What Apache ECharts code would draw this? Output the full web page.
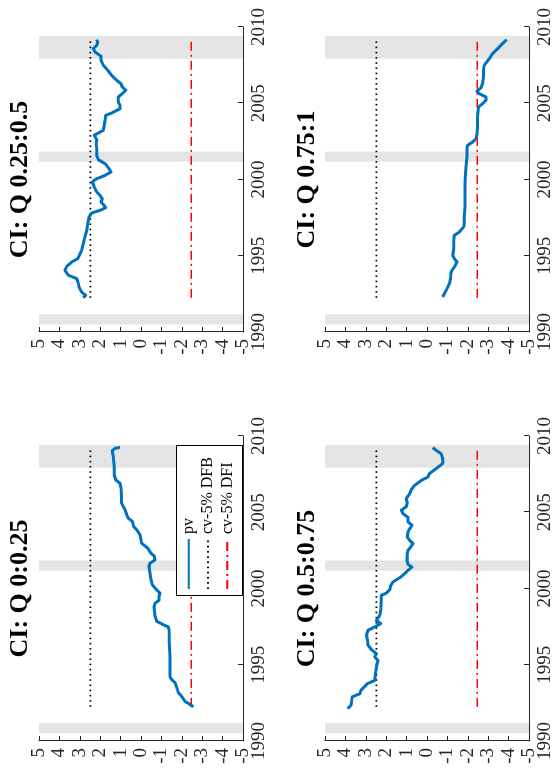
<!DOCTYPE html>
<html><head><meta charset="utf-8">
<script src="https://cdn.jsdelivr.net/npm/echarts@6/dist/echarts.min.js"></script>
<style>
html,body{margin:0;padding:0;width:555px;height:776px;overflow:hidden;background:#fff;}
#chart{position:absolute;left:0;top:0;width:776px;height:555px;transform-origin:0 0;transform:translate(0,776px) rotate(-90deg);}
</style></head><body><div id="chart"></div>
<script>
// ---- data ----
const panelTitles = ['CI: Q 0:0.25', 'CI: Q 0.25:0.5', 'CI: Q 0.5:0.75', 'CI: Q 0.75:1'];
const seriesNames = ['pv', 'cv-5% DFB', 'cv-5% DFI'];
const yearMin = 1990, yearMax = 2010, yearStep = 5;
const valMin = -5, valMax = 5, valStep = 1;
const recessions = [[1990.5, 1991.17], [2001.17, 2001.83], [2007.92, 2009.42]];
const cvDFB = 2.48;
const cvDFI = -2.46;
const cvStart = 1992.24, cvEnd = 2009.2;

const yrsA = [1992.24,1992.4,1992.6,1992.94,1993.16,1993.38,1993.82,1994.08,1994.25,1994.69,1995.56,1996.43,1997.3,1997.48,1997.63,1997.85,1998.18,1998.83,1999.04,1999.22,1999.48,1999.7,1999.91,2000.24,2000.57,2001.0,2001.44,2001.66,2001.87,2002.13,2002.31,2002.64,2002.97,2003.19,2003.52,2003.85,2004.07,2004.4,2004.6,2004.83,2005.16,2005.38,2005.6,2006.03,2006.58,2006.9,2007.12,2007.45,2008.0,2008.65,2009.04,2009.19,2009.26];
const pvA = [-2.57,-2.4,-2.16,-1.99,-1.83,-1.78,-1.67,-1.47,-1.42,-1.42,-1.42,-1.39,-1.37,-1.34,-1.09,-0.77,-0.69,-0.64,-0.69,-0.88,-0.88,-0.93,-0.77,-0.56,-0.49,-0.44,-0.39,-0.44,-0.69,-0.65,-0.49,-0.33,-0.03,0.0,0.05,0.21,0.36,0.42,0.62,0.70,0.78,0.87,0.95,0.95,0.98,1.03,1.24,1.31,1.31,1.36,1.41,1.27,1.03];

const yrsB = [1992.25,1992.4,1992.62,1992.95,1993.17,1993.5,1993.72,1994.04,1994.3,1994.59,1994.81,1995.03,1995.36,1995.79,1996.23,1996.67,1997.1,1997.54,1997.8,1997.98,1998.15,1998.37,1998.52,1998.74,1998.96,1999.18,1999.5,1999.84,2000.05,2000.27,2000.49,2000.71,2001.04,2001.3,2001.58,2002.02,2002.35,2002.61,2002.9,2003.05,2003.22,2003.55,2003.88,2004.21,2004.36,2004.64,2004.86,2005.08,2005.41,2005.63,2005.85,2006.07,2006.28,2006.5,2006.83,2007.16,2007.49,2007.81,2008.08,2008.36,2008.58,2008.8,2009.02,2009.17];
const pvB = [2.83,2.71,2.91,3.04,3.07,3.15,3.56,3.73,3.64,3.4,3.1,3.02,2.91,2.83,2.75,2.66,2.61,2.55,2.42,2.01,1.73,1.85,1.96,1.9,2.01,2.17,2.29,2.39,2.17,1.76,1.47,1.57,1.76,2.09,2.17,2.17,2.2,2.17,2.29,2.09,1.85,1.8,1.76,1.73,1.44,1.03,1.03,1.11,1.11,0.92,0.75,0.92,0.98,1.19,1.44,1.63,1.85,1.96,1.96,2.25,2.34,2.17,2.12,2.17];

const yrsC = [1992.12,1992.34,1992.56,1992.89,1993.1,1993.32,1993.76,1993.98,1994.42,1994.85,1995.29,1995.51,1995.73,1995.99,1996.27,1996.6,1996.93,1997.26,1997.48,1997.7,1997.9,1998.24,1998.57,1999.22,1999.55,1999.7,1999.92,2000.2,2000.43,2000.75,2000.97,2001.19,2001.41,2001.58,2001.84,2002.28,2002.5,2002.73,2002.95,2003.16,2003.38,2003.72,2004.15,2004.37,2004.66,2004.92,2005.14,2005.36,2005.63,2005.9,2006.22,2006.48,2006.76,2007.09,2007.31,2007.53,2007.86,2008.19,2008.52,2008.84,2009.06,2009.24];
const pvC = [3.89,3.73,3.7,3.67,3.29,3.24,2.92,2.56,2.53,2.48,2.4,2.56,2.48,2.72,2.89,2.92,2.97,2.89,2.56,2.27,2.48,2.32,2.27,2.24,2.24,1.99,1.83,1.78,1.67,1.29,1.1,0.93,0.74,0.93,0.98,0.97,0.93,0.8,0.69,0.85,0.97,0.93,0.74,0.93,0.93,1.18,1.26,1.02,0.97,1.02,0.85,0.77,0.61,0.28,-0.04,-0.12,-0.45,-0.77,-0.77,-0.69,-0.45,-0.28];

const yrsD = [1992.3,1992.51,1992.84,1993.17,1993.5,1993.93,1994.26,1994.59,1994.81,1995.03,1995.46,1996.01,1996.34,1996.56,1996.89,1997.15,1997.54,1998.2,1998.85,1999.51,2000.16,2000.82,2001.48,2002.02,2002.24,2002.46,2002.68,2003.0,2003.44,2004.1,2004.75,2004.97,2005.19,2005.41,2005.63,2005.8,2006.01,2006.28,2006.72,2007.16,2007.48,2007.92,2008.25,2008.58,2008.8,2009.02,2009.17];
const pvD = [-0.77,-0.85,-0.98,-1.1,-1.15,-1.18,-1.34,-1.47,-1.34,-1.26,-1.31,-1.31,-1.34,-1.59,-1.8,-1.83,-1.83,-1.86,-1.86,-1.86,-1.88,-1.91,-1.96,-1.96,-1.99,-2.24,-2.4,-2.45,-2.48,-2.48,-2.52,-2.72,-2.89,-2.89,-2.56,-2.45,-2.64,-2.72,-2.77,-2.77,-2.8,-3.05,-3.21,-3.46,-3.62,-3.78,-3.91];

const panelYears = [yrsA, yrsB, yrsC, yrsD];
const panelValues = [pvA, pvB, pvC, pvD];

// ---- layout (in unrotated chart coordinates) ----
const grids = [
  {left: 35, top: 39, width: 305, height: 204},
  {left: 444, top: 39, width: 305, height: 204},
  {left: 35, top: 325, width: 305, height: 205},
  {left: 444, top: 325, width: 305, height: 205}
];
const titleTops = [7, 7, 294, 294];
const legendBox = {x: 180, y: 176, width: 150, height: 66};
const FONT = "'Liberation Serif', 'Times New Roman', serif";
const AX = '#262626';
const NOSYM = {color: 'rgba(0,0,0,0)', borderColor: 'rgba(0,0,0,0)', borderWidth: 0, opacity: 0};

const chart = echarts.init(document.getElementById('chart'), null, {renderer: 'canvas'});
const option = {
  animation: false,
  backgroundColor: '#fff',
  title: panelTitles.map((t, i) => ({
    text: t, left: grids[i].left + grids[i].width / 2, top: titleTops[i], textAlign: 'center', padding: 0,
    textStyle: {fontFamily: FONT, fontWeight: 'bold', fontSize: 26, color: '#000'}
  })),
  graphic: [{
    type: 'rect', z: 20, silent: true,
    shape: {x: legendBox.x + 0.5, y: legendBox.y + 0.5, width: legendBox.width, height: legendBox.height},
    style: {fill: '#fff', stroke: '#000', lineWidth: 1}
  }],
  legend: {
    data: seriesNames.map(n => ({name: n, itemStyle: NOSYM})),
    orient: 'vertical', left: legendBox.x, top: legendBox.y, padding: [4.7, 10, 12, 6], z: 30,
    itemWidth: 50, itemHeight: 14, itemGap: 3.3,
    itemStyle: NOSYM, backgroundColor: 'transparent', borderWidth: 0,
    textStyle: {fontFamily: FONT, fontSize: 16, lineHeight: 14, color: '#000'}
  },
  grid: grids.map(g => Object.assign({containLabel: false}, g)),
  xAxis: grids.map((g, i) => ({
    gridIndex: i, type: 'value', min: yearMin, max: yearMax, interval: yearStep, position: 'bottom',
    axisLine: {show: true, onZero: false, lineStyle: {color: AX, width: 1}},
    axisTick: {show: true, inside: true, length: 5, lineStyle: {color: AX, width: 1}},
    axisLabel: {show: true, fontFamily: FONT, fontSize: 19, color: AX, margin: 7, formatter: v => String(v)},
    splitLine: {show: false}
  })),
  yAxis: grids.map((g, i) => ({
    gridIndex: i, type: 'value', min: valMin, max: valMax, interval: valStep, position: 'left',
    axisLine: {show: true, onZero: false, lineStyle: {color: AX, width: 1}},
    axisTick: {show: true, inside: true, length: 5, lineStyle: {color: AX, width: 1}},
    axisLabel: {show: true, fontFamily: FONT, fontSize: 19, color: AX, margin: 7, formatter: v => String(v)},
    splitLine: {show: false}
  })),
  series: []
};

for (let i = 0; i < 4; i++) {
  option.series.push({
    name: 'recession', type: 'line', xAxisIndex: i, yAxisIndex: i, data: [], z: 1, silent: true,
    markArea: {silent: true, itemStyle: {color: '#e5e5e5', borderWidth: 0},
      data: recessions.map(r => [{xAxis: r[0]}, {xAxis: r[1]}])}
  });
  option.series.push({
    name: seriesNames[1], type: 'line', xAxisIndex: i, yAxisIndex: i, symbol: 'none', z: 2, silent: true,
    data: [[cvStart, cvDFB], [cvEnd, cvDFB]],
    itemStyle: {color: '#000'}, lineStyle: {color: '#000', width: 1.6, type: [1.6, 3.6]}
  });
  option.series.push({
    name: seriesNames[2], type: 'line', xAxisIndex: i, yAxisIndex: i, symbol: 'none', z: 2, silent: true,
    data: [[cvStart, cvDFI], [cvEnd, cvDFI]],
    itemStyle: {color: '#ff0000'}, lineStyle: {color: '#ff0000', width: 1.5, type: [9, 4, 2, 4]}
  });
  option.series.push({
    name: seriesNames[0], type: 'line', xAxisIndex: i, yAxisIndex: i, symbol: 'none', z: 3, silent: true,
    data: panelYears[i].map((y, k) => [y, panelValues[i][k]]),
    itemStyle: {color: '#0072BD'}, lineStyle: {color: '#0072BD', width: 3, join: 'round'}
  });
}
chart.setOption(option);
</script></body></html>
